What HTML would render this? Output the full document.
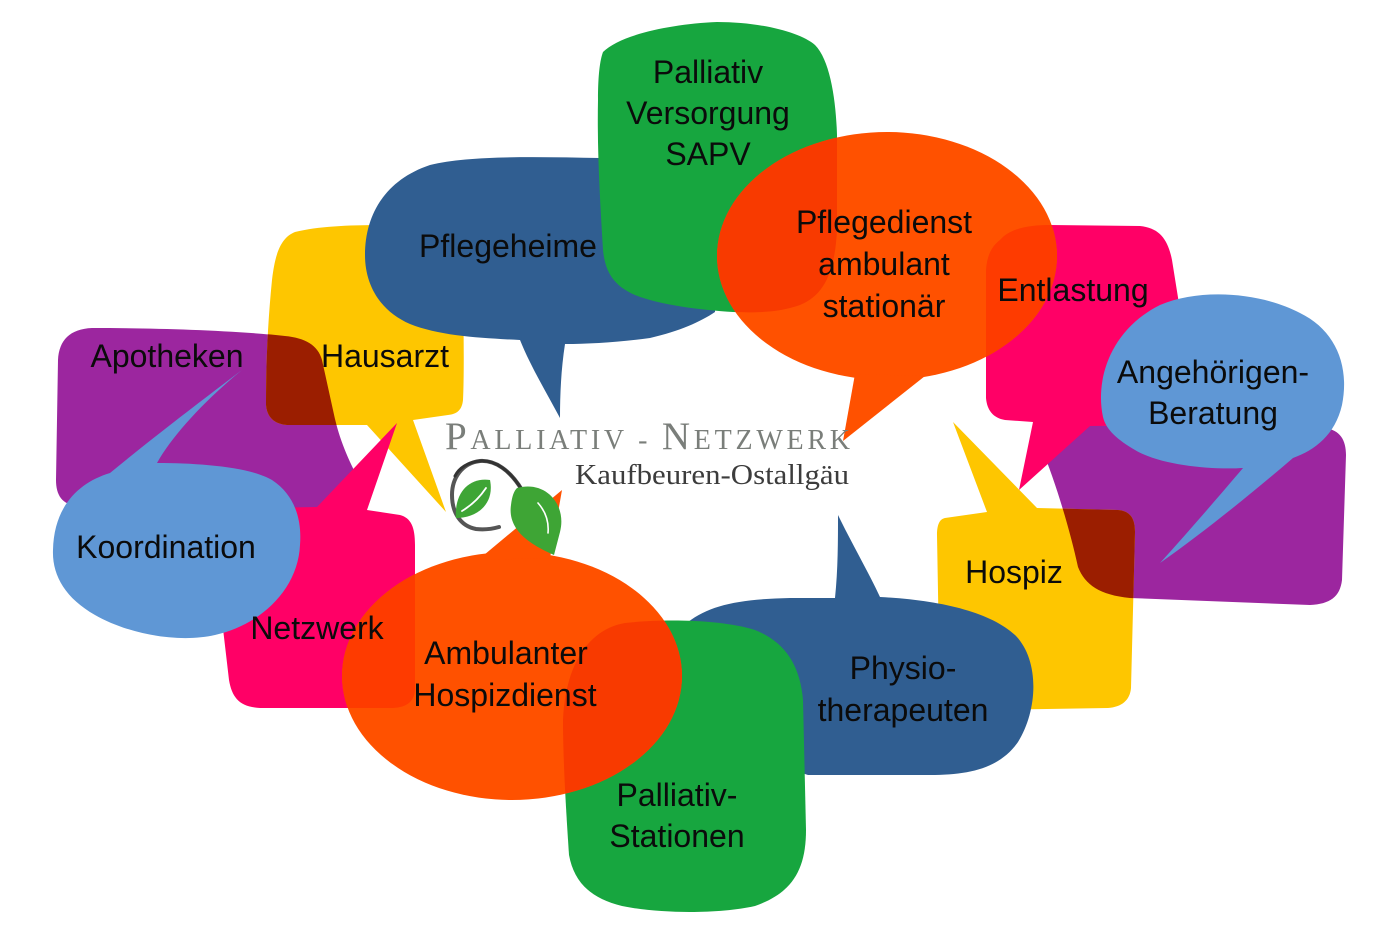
<!DOCTYPE html>
<html>
<head>
<meta charset="utf-8">
<style>
  html,body{margin:0;padding:0;background:#fff;}
  body{width:1400px;height:933px;overflow:hidden;}
  svg{display:block;}
  .t{font-family:"Liberation Sans",Arial,sans-serif;font-size:32px;fill:#0b0b0b;text-anchor:middle;}
</style>
</head>
<body>
<svg width="1400" height="933" viewBox="0 0 1400 933" xmlns="http://www.w3.org/2000/svg">
  <defs>
    <path id="pA" d="M 92,328 C 150,328 230,330 285,336 C 305,338 318,345 322,360 L 333,410 C 338,435 346,455 358,478 L 345,508 L 78,506 C 62,505 56,495 56,480 L 58,360 C 59,340 70,329 92,328 Z"/>
    <path id="pH" d="M 295,232 C 320,226 350,225 390,225 L 470,228 L 463,300 C 464,340 464,380 463,400 C 462,410 457,414 448,415 L 413,420 L 446,512 L 367,425 L 287,425 C 274,424 267,417 266,405 C 266,360 268,320 272,280 C 275,255 280,238 295,232 Z"/>
    <path id="pN" d="M 317,507 L 397,423 L 367,510 L 400,515 C 411,518 415,527 415,545 L 415,690 C 414,703 405,708 390,708 L 260,708 C 240,707 232,698 229,680 L 222,620 L 222,540 C 224,520 235,510 260,508 Z"/>
    <path id="pK" d="M 110,473 C 160,432 205,398 242,370 C 205,400 172,436 157,463 C 200,463 250,467 272,480 C 295,495 302,520 300,545 C 298,590 260,625 215,635 C 180,643 130,635 95,615 C 65,598 52,575 53,550 C 54,505 80,482 110,473 Z"/>
    <path id="pB1" d="M 365,255 C 365,215 385,180 430,165 C 470,155 540,157 600,158 L 720,160 L 715,312 C 700,322 680,331 650,338 C 620,342 590,344 565,344 C 561,370 560,395 560,418 C 545,390 530,365 520,340 C 480,338 440,336 410,324 C 380,311 365,285 365,255 Z"/>
    <path id="pG1" d="M 603,52 C 620,35 670,24 717,22 C 760,22 800,32 815,45 C 830,60 836,100 837,135 L 837,230 C 835,270 825,295 800,305 C 780,312 760,313 733,312 C 700,310 660,305 635,295 C 612,285 605,270 603,250 C 600,200 597,150 598,100 C 598,75 600,60 603,52 Z"/>
    <path id="pP2" d="M 1055,425 L 1325,428 C 1340,430 1346,440 1346,455 L 1342,580 C 1340,597 1330,604 1310,605 L 1130,598 C 1100,595 1085,585 1078,567 C 1070,530 1055,480 1041,447 C 1036,432 1043,425 1055,425 Z"/>
    <path id="pE" d="M 1000,240 C 1010,228 1030,225 1050,225 L 1140,226 C 1160,228 1168,240 1172,260 L 1180,310 L 1185,425 L 1090,426 L 1019,490 L 1033,422 L 1005,420 C 993,418 987,410 986,398 L 986,270 C 987,255 992,246 1000,240 Z"/>
    <path id="pY2" d="M 945,518 L 987,512 L 953,422 L 1037,508 L 1118,510 C 1130,511 1135,518 1135,532 L 1131,688 C 1130,700 1122,707 1108,708 L 990,710 L 940,705 L 937,535 C 937,524 940,519 945,518 Z"/>
    <path id="pB2" d="M 688,622 C 710,605 740,599 790,598 L 835,598 C 838,570 838,540 838,515 C 850,540 870,575 880,597 C 940,600 990,612 1015,635 C 1040,660 1038,710 1018,742 C 1000,768 970,775 930,775 L 808,775 L 700,740 Z"/>
    <path id="pG2" d="M 625,623 C 660,619 720,619 755,630 C 785,642 800,665 803,700 L 806,830 C 806,870 792,893 755,906 C 720,914 660,914 622,906 C 590,898 574,882 569,855 C 566,810 563,760 563,720 C 565,670 585,630 625,623 Z"/>
    <path id="pB3" d="M 1103,417 C 1095,380 1110,330 1160,305 C 1200,288 1260,292 1300,313 C 1335,330 1350,365 1342,405 C 1335,435 1315,450 1293,458 C 1250,495 1200,535 1160,563 C 1190,530 1220,495 1243,468 C 1210,470 1160,465 1135,450 C 1118,440 1106,430 1103,417 Z"/>

    <clipPath id="cH"><use href="#pH"/></clipPath>
    <clipPath id="cY2"><use href="#pY2"/></clipPath>
    <clipPath id="cO1">
      <ellipse cx="512" cy="676" rx="170" ry="124"/>
      <polygon points="478,560 562,490 550,558"/>
    </clipPath>
    <clipPath id="cO2">
      <ellipse cx="887" cy="256" rx="170" ry="124"/>
      <polygon points="855,374 843,441 925,376"/>
    </clipPath>
  </defs>

  <!-- Left cluster -->
  <use href="#pA" fill="#9c269f"/>
  <use href="#pH" fill="#fec600"/>
  <g clip-path="url(#cH)"><use href="#pA" fill="#9b1e00"/></g>
  <use href="#pN" fill="#ff0066"/>
  <use href="#pK" fill="#5f97d5"/>

  <!-- Top -->
  <use href="#pB1" fill="#305e91"/>
  <use href="#pG1" fill="#17a63f"/>

  <!-- Right cluster -->
  <use href="#pP2" fill="#9c269f"/>
  <use href="#pE" fill="#ff0066"/>
  <use href="#pY2" fill="#fec600"/>
  <g clip-path="url(#cY2)"><use href="#pP2" fill="#9b1e00"/></g>
  <use href="#pB3" fill="#5f97d5"/>

  <!-- Bottom -->
  <use href="#pB2" fill="#305e91"/>
  <use href="#pG2" fill="#17a63f"/>

  <!-- Orange Ambulanter -->
  <ellipse cx="512" cy="676" rx="170" ry="124" fill="#ff5100"/>
  <polygon points="478,560 562,490 550,558" fill="#ff5100"/>
  <g clip-path="url(#cO1)">
    <use href="#pG2" fill="#f83a00"/>
    <use href="#pN" fill="#fe3b00"/>
  </g>

  <!-- Orange Pflegedienst -->
  <ellipse cx="887" cy="256" rx="170" ry="124" fill="#ff5100"/>
  <polygon points="855,374 843,441 925,376" fill="#ff5100"/>
  <g clip-path="url(#cO2)">
    <use href="#pG1" fill="#f83a00"/>
    <use href="#pE" fill="#fe3b00"/>
  </g>

  <!-- Labels -->
  <text class="t" x="708" y="83">Palliativ</text>
  <text class="t" x="708" y="124">Versorgung</text>
  <text class="t" x="708" y="165">SAPV</text>
  <text class="t" x="508" y="257">Pflegeheime</text>
  <text class="t" x="385" y="367">Hausarzt</text>
  <text class="t" x="167" y="367">Apotheken</text>
  <text class="t" x="166" y="558">Koordination</text>
  <text class="t" x="317" y="639">Netzwerk</text>
  <text class="t" x="506" y="664">Ambulanter</text>
  <text class="t" x="505" y="706">Hospizdienst</text>
  <text class="t" x="677" y="806">Palliativ-</text>
  <text class="t" x="677" y="847">Stationen</text>
  <text class="t" x="903" y="679">Physio-</text>
  <text class="t" x="903" y="721">therapeuten</text>
  <text class="t" x="1014" y="583">Hospiz</text>
  <text class="t" x="1213" y="383">Angehörigen-</text>
  <text class="t" x="1213" y="424">Beratung</text>
  <text class="t" x="1073" y="301">Entlastung</text>
  <text class="t" x="884" y="233">Pflegedienst</text>
  <text class="t" x="884" y="275">ambulant</text>
  <text class="t" x="884" y="317">stationär</text>

  <!-- Logo -->
  <text x="445" y="449" font-family="'Liberation Serif',serif" fill="#7a7e7a" textLength="405" lengthAdjust="spacing"><tspan font-size="39">P</tspan><tspan font-size="28">ALLIATIV - </tspan><tspan font-size="39">N</tspan><tspan font-size="28">ETZWERK</tspan></text>
  <text x="575" y="484" font-family="'Liberation Serif',serif" font-size="28" fill="#3c3c3c" textLength="274" lengthAdjust="spacingAndGlyphs">Kaufbeuren-Ostallgäu</text>

  <!-- Swirl -->
  <path d="M 522,490 C 510,470 495,460 480,461 C 462,463 452,478 452,495 C 452,512 460,526 476,529 C 485,530 492,529 499,527" fill="none" stroke="#555" stroke-width="4" stroke-linecap="round"/>
  <path d="M 522,490 C 510,470 495,460 480,461 C 468,462 459,468 455,476" fill="none" stroke="#333" stroke-width="3" stroke-linecap="round"/>
  <!-- Left leaf -->
  <path d="M 490,480 C 470,477 454,492 456,518 C 476,518 495,505 490,480 Z" fill="#3ea535"/>
  <path d="M 462,511 C 472,505 480,497 486,488" fill="none" stroke="#ffffff" stroke-width="1.8" stroke-linecap="round"/>
  <!-- Right leaf -->
  <path d="M 517,488 C 546,480 567,505 560,532 L 554,555 C 534,546 507,532 511,505 C 512,496 514,491 517,488 Z" fill="#3ea535"/>
  <path d="M 538,503 C 546,512 549,522 548,533" fill="none" stroke="#ffffff" stroke-width="1.6" stroke-linecap="round"/>
</svg>
</body>
</html>
